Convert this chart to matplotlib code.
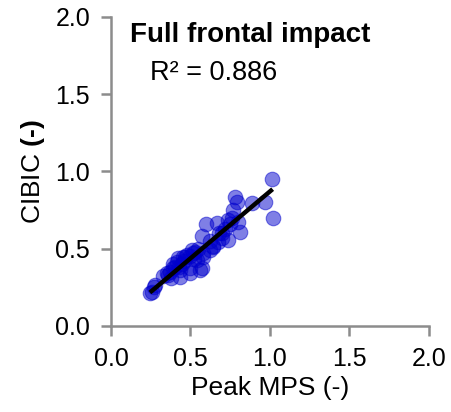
import matplotlib
matplotlib.use("Agg")
import matplotlib.pyplot as plt

plt.rcParams["font.family"] = ["Liberation Sans", "DejaVu Sans"]
plt.rcParams["mathtext.fontset"] = "custom"
plt.rcParams["mathtext.rm"] = "Liberation Sans"
plt.rcParams["mathtext.bf"] = "Liberation Sans:bold"

# peak MPS vs CIBIC
peak_mps = [0.245, 0.27, 0.256, 0.277, 0.35, 0.36, 0.38, 0.392, 0.413, 0.434,
            0.434, 0.455, 0.465, 0.497, 0.497, 0.507, 0.518, 0.539, 0.56, 0.57,
            0.57, 0.58, 0.60, 0.623, 0.643, 0.665, 0.675, 0.696, 0.738, 0.738,
            0.77, 0.78, 0.79, 0.80, 0.81, 0.885, 0.969, 1.01, 1.017, 0.33,
            0.40, 0.42, 0.45, 0.48, 0.52, 0.55, 0.62, 0.68, 0.72, 0.75,
            0.37, 0.39, 0.43, 0.46, 0.50, 0.53, 0.58, 0.64, 0.70, 0.76]
cibic = [0.214, 0.254, 0.222, 0.265, 0.341, 0.33, 0.309, 0.373, 0.416, 0.319,
         0.36, 0.449, 0.449, 0.373, 0.341, 0.492, 0.47, 0.427, 0.362, 0.583,
         0.373, 0.449, 0.66, 0.492, 0.513, 0.669, 0.546, 0.567, 0.686, 0.557,
         0.75, 0.837, 0.805, 0.675, 0.61, 0.794, 0.805, 0.95, 0.70, 0.32,
         0.38, 0.44, 0.40, 0.46, 0.43, 0.50, 0.55, 0.60, 0.63, 0.66,
         0.35, 0.40, 0.38, 0.42, 0.45, 0.48, 0.47, 0.52, 0.60, 0.70]

# regression line end points
fit_x = [0.245, 1.017]
fit_y = [0.216, 0.885]

title = "Full frontal impact"
r2_text = "R² = 0.886"

fig = plt.figure(figsize=(4.51, 4.12), dpi=100)
ax = fig.add_axes([0.246, 0.209, 0.705, 0.75])

ax.scatter(peak_mps, cibic, s=110, color="#0000cc", alpha=0.5,
           edgecolors="#0000cc", linewidths=0.8, zorder=2)
ax.plot(fit_x, fit_y, color="black", lw=3.2, solid_capstyle="butt", zorder=3)

ax.set_xlim(0, 2)
ax.set_ylim(0, 2)
ax.set_xticks([0, 0.5, 1.0, 1.5, 2.0])
ax.set_yticks([0, 0.5, 1.0, 1.5, 2.0])
ax.set_xticklabels(["0.0", "0.5", "1.0", "1.5", "2.0"])
ax.set_yticklabels(["0.0", "0.5", "1.0", "1.5", "2.0"])

for side in ["top", "right"]:
    ax.spines[side].set_visible(False)
for side in ["left", "bottom"]:
    ax.spines[side].set_color("#8c8c8c")
    ax.spines[side].set_linewidth(1.8)
ax.tick_params(direction="out", length=7, width=1.8, color="#8c8c8c",
               labelsize=18, pad=8)

ax.set_xlabel("Peak MPS (-)", fontsize=19, labelpad=4)
ax.set_ylabel("CIBIC $\\mathbf{(\u2010)}$", fontsize=19, labelpad=6)

ax.text(0.12, 1.88, title, fontsize=20, fontweight="bold", va="center")
ax.text(0.245, 1.64, r2_text, fontsize=19.5, va="center")

fig.savefig("out.png", dpi=100)
